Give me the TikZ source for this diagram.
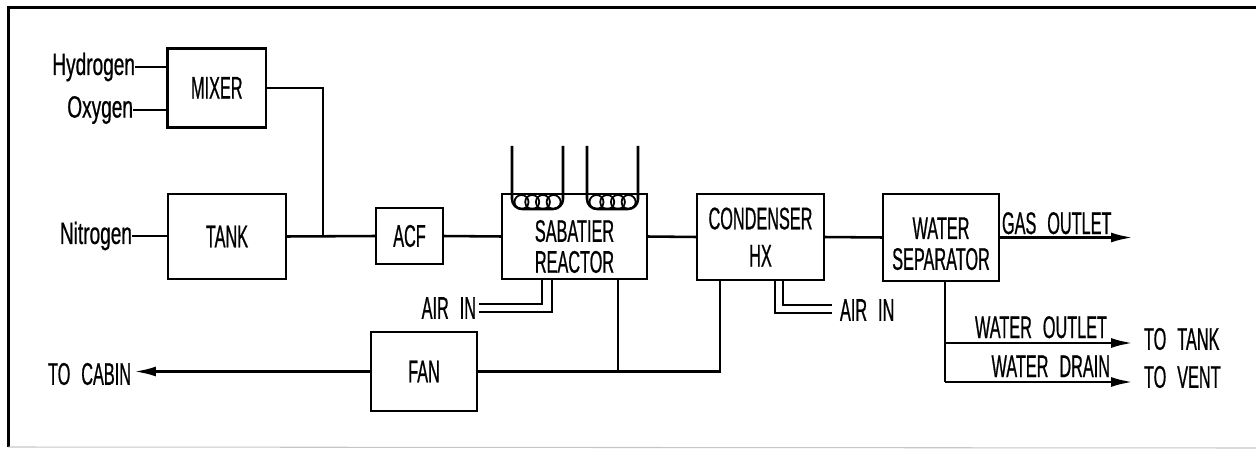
\documentclass[tikz,border=0pt]{standalone}
\usepackage{fontspec}
\setmainfont[FakeStretch=0.52,FakeBold=0.6]{Liberation Sans}
\newfontfamily\gasfont[FakeStretch=0.62,FakeBold=0.6]{Liberation Sans}
\usetikzlibrary{arrows.meta}
\tikzset{
  unitbox/.style={draw,line width=1.4pt,outer sep=0pt,inner sep=0pt,align=center},
  flowline/.style={line width=1.45pt},
  flowarrow/.style={line width=1.6pt,-{Latex[length=.44cm,width=.2cm]}},
  pipeline/.style={line width=1.1pt},
  portlabel/.style={inner sep=0pt,outer sep=0pt},
  gaslabel/.style={portlabel,anchor=east,font=\gasfont\fontsize{17.5}{18}\selectfont}
}
\begin{document}
\begin{tikzpicture}[font=\fontsize{17.8}{17.6}\selectfont,x=.02cm,y=-.02cm]
  \useasboundingbox (0,0) rectangle (1256,449);
  % outer frame
  \coordinate (framebl) at (8.5,447);
  \coordinate (frametl) at (8.5,7.5);
  \coordinate (frametr) at (1256,7.5);
  \coordinate (framebr) at (1256,448);
  \draw[line width=1.7pt] (framebl) -- (frametl) -- (frametr);
  \draw[gray!45,line width=.6pt] (framebl) -- (framebr);
  % blocks
  \foreach \name/\cx/\cy/\w/\h/\lab in {
    mixer/216.8/87.8/98.6/79/MIXER,
    tank/227/236.5/118/85/TANK,
    acf/409.5/236/67/56/ACF,
    sabatier/574.5/236.5/145/85/{\\[.35em]SABATIER\\REACTOR},
    condenser/760.5/237/127/86/{CONDENSER\\[.2em]HX},
    separator/941/237.5/116/87/{\\[.1em]WATER\\SEPARATOR},
    fan/424/371.5/106/79/FAN}
  {
    \node[unitbox,minimum width=\w*.02cm,minimum height=\h*.02cm] (\name) at (\cx,\cy) {\lab};
  }
  % inputs
  \node[gaslabel] (hydrogen) at (135,67) {Hydrogen};
  \node[gaslabel] (oxygen) at (133,110) {Oxygen};
  \node[gaslabel] (nitrogen) at (132,236) {Nitrogen};
  \draw[flowline] (hydrogen) -- (hydrogen -| mixer.west);
  \draw[flowline] (oxygen) -- (oxygen -| mixer.west);
  \draw[flowline] (nitrogen) -- (nitrogen -| tank.west);
  % main line
  \coordinate (tee) at (323,236.5);
  \draw[flowline] (mixer.east) -| (tee);
  \draw[flowline] (tank.east) -- (acf.west);
  \draw[flowline] (acf.east) -- (sabatier.west);
  \draw[flowline] (sabatier.east) -- (condenser.west);
  \draw[flowline] (condenser.east) -- (separator.west);
  % coils
  \foreach \coil/\cx in {coila/512,coilb/587} {
    \coordinate (\coil l) at (\cx,146);
    \coordinate (\coil b) at (\cx+25.5,209);
    \coordinate (\coil r) at (\cx+51,146);
    \draw[flowline,rounded corners=.2cm] (\coil l) |- (\coil b) -| (\coil r);
    \foreach \i in {0,1,2,3} {
      \draw[line width=1pt] (\cx+9.5+\i*10.7,202) circle[radius=.14cm];
    }
  }
  % air lines
  \node[portlabel,anchor=east] (airsab) at (476,308) {AIR\hspace{.35em}IN};
  \coordinate (sabaira) at (542,279);
  \coordinate (sabairb) at (552,279);
  \coordinate (sabaend) at (479,304);
  \coordinate (sabbend) at (479,312);
  \draw[pipeline] (sabaira) |- (sabaend);
  \draw[pipeline] (sabairb) |- (sabbend);
  \node[portlabel,anchor=west] (aircond) at (840,310) {AIR\hspace{.35em}IN};
  \coordinate (condaira) at (775,280);
  \coordinate (condairb) at (783,280);
  \coordinate (condaend) at (832,313);
  \coordinate (condbend) at (832,305);
  \draw[pipeline] (condaira) |- (condaend);
  \draw[pipeline] (condairb) |- (condbend);
  % fan loop
  \coordinate (sabdrop) at (618,279);
  \coordinate (conddrop) at (720,280);
  \coordinate (cabinend) at (134,371.5);
  \draw[flowline] (fan.east) -| (conddrop);
  \draw[flowline] (sabdrop) -- (sabdrop |- fan.east);
  \node[portlabel,anchor=east] (cabin) at (131,374) {TO\hspace{.35em}CABIN};
  \draw[flowarrow] (fan.west) -- (cabinend);
  % outlets
  \coordinate (gasend) at (1133,237.5);
  \coordinate (wateroff) at (945,281);
  \node[portlabel,anchor=west] (totank) at (1144,339) {TO\hspace{.35em}TANK};
  \node[portlabel,anchor=west] (tovent) at (1144,377) {TO\hspace{.35em}VENT};
  \coordinate (outletend) at (1133,343);
  \coordinate (drainend) at (1133,382);
  \draw[flowarrow] (separator.east) -- (gasend);
  \draw[flowline] (wateroff) -- (wateroff |- drainend);
  \draw[flowarrow] (wateroff |- outletend) -- (outletend);
  \draw[flowarrow] (wateroff |- drainend) -- (drainend);
  \node[portlabel,anchor=base west] (gaslab) at (1002,234) {GAS\hspace{.35em}OUTLET};
  \node[portlabel,anchor=base east] (outletlab) at (1107,338) {WATER\hspace{.35em}OUTLET};
  \node[portlabel,anchor=base east] (drainlab) at (1110,377) {WATER\hspace{.35em}DRAIN};
\end{tikzpicture}
\end{document}
